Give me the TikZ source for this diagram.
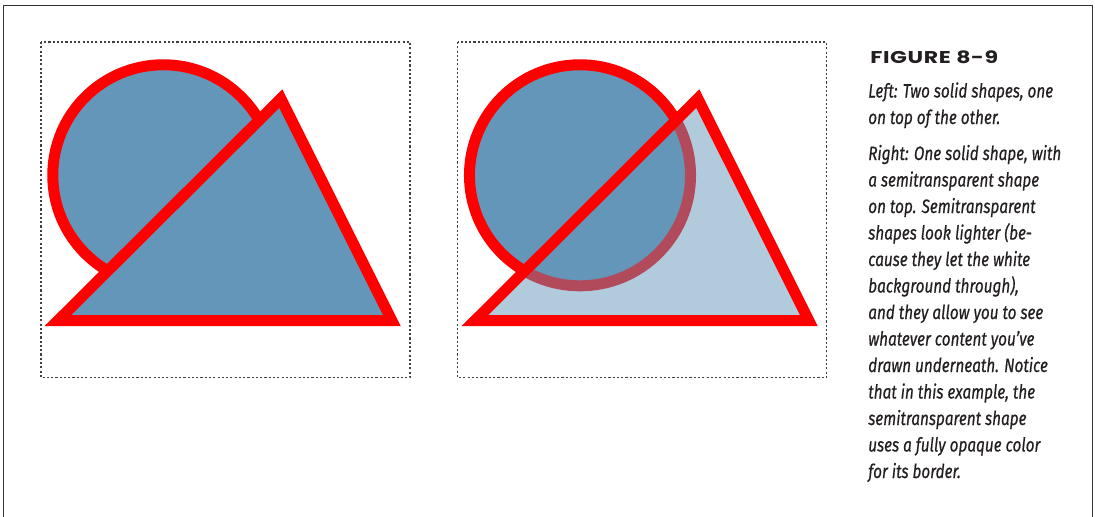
\documentclass[tikz,border=0pt]{standalone}
\usepackage{fontspec}
\usepackage{graphicx}
\newfontfamily\capfam{Fira Sans}[FakeBold=0.6]
\newfontfamily\titlefam{Poppins}[LetterSpace=3]
\definecolor{shapeblue}{RGB}{100,150,185}
\definecolor{ink}{RGB}{35,31,32}
\tikzset{
  px/.style={x=0.75pt,y=-0.75pt},
  frameline/.style={draw=black!80, line width=1.2pt},
  panelbox/.style={draw=black!75, line width=0.8pt, dash pattern=on 1.6pt off 1.6pt},
  solidshape/.style={fill=shapeblue, draw=red, line width=8.25pt, line join=miter},
  capline/.style={anchor=base west, inner sep=0pt, text=ink},
}
\newlength\refw
\newcommand\capfont{\capfam\itshape\fontsize{14.5pt}{17pt}\selectfont}
\newcommand\cl[1]{\scalebox{\capscale}[1]{\capfont #1}}
\begin{document}
\settowidth\refw{\capfont Right: One solid shape, with}%
\pgfmathsetmacro\capscale{144.75/\refw}%
\begin{tikzpicture}[px]
\useasboundingbox (0,0) rectangle (1095,517);
% outer frame (open at the bottom)
\draw[frameline] (3.3,517) -- (3.3,5.7) -- (1092.3,5.7) -- (1092.3,517);
% panels
\draw[panelbox] (41,42) rectangle (410,377.5);
\draw[panelbox] (457.5,42) rectangle (826.5,377.5);
% left: two solid shapes
\draw[solidshape] (163.3,175.3) circle[radius=82.9pt];
\draw[solidshape] (280.8,98.6) -- (58,320.5) -- (391.8,320.5) -- cycle;
% right: semitransparent triangle on top
\draw[solidshape] (580,175.3) circle[radius=82.9pt];
\draw[solidshape, fill opacity=0.5] (697.8,98.6) -- (475,320.5) -- (808.8,320.5) -- cycle;
% caption
\node[capline] (title) at (870,64) {\resizebox{96pt}{\height}{\titlefam\bfseries\fontsize{12.8pt}{14pt}\selectfont FIGURE 8-9}};
\node[capline] (c1) at (868,97.5) {\cl{Left: Two solid shapes, one}};
\node[capline] (c2) at (868,124) {\cl{on top of the other.}};
\node[capline] (c3) at (868,160) {\cl{Right: One solid shape, with}};
\node[capline] (c4) at (868,186.5) {\cl{a semitransparent shape}};
\node[capline] (c5) at (868,213) {\cl{on top. Semitransparent}};
\node[capline] (c6) at (868,239.5) {\cl{shapes look lighter (be-}};
\node[capline] (c7) at (868,266) {\cl{cause they let the white}};
\node[capline] (c8) at (868,292.5) {\cl{background through),}};
\node[capline] (c9) at (868,319) {\cl{and they allow you to see}};
\node[capline] (c10) at (868,345.5) {\cl{whatever content you’ve}};
\node[capline] (c11) at (868,372) {\cl{drawn underneath. Notice}};
\node[capline] (c12) at (868,398.5) {\cl{that in this example, the}};
\node[capline] (c13) at (868,425) {\cl{semitransparent shape}};
\node[capline] (c14) at (868,451.5) {\cl{uses a fully opaque color}};
\node[capline] (c15) at (868,478) {\cl{for its border.}};
\end{tikzpicture}
\end{document}
